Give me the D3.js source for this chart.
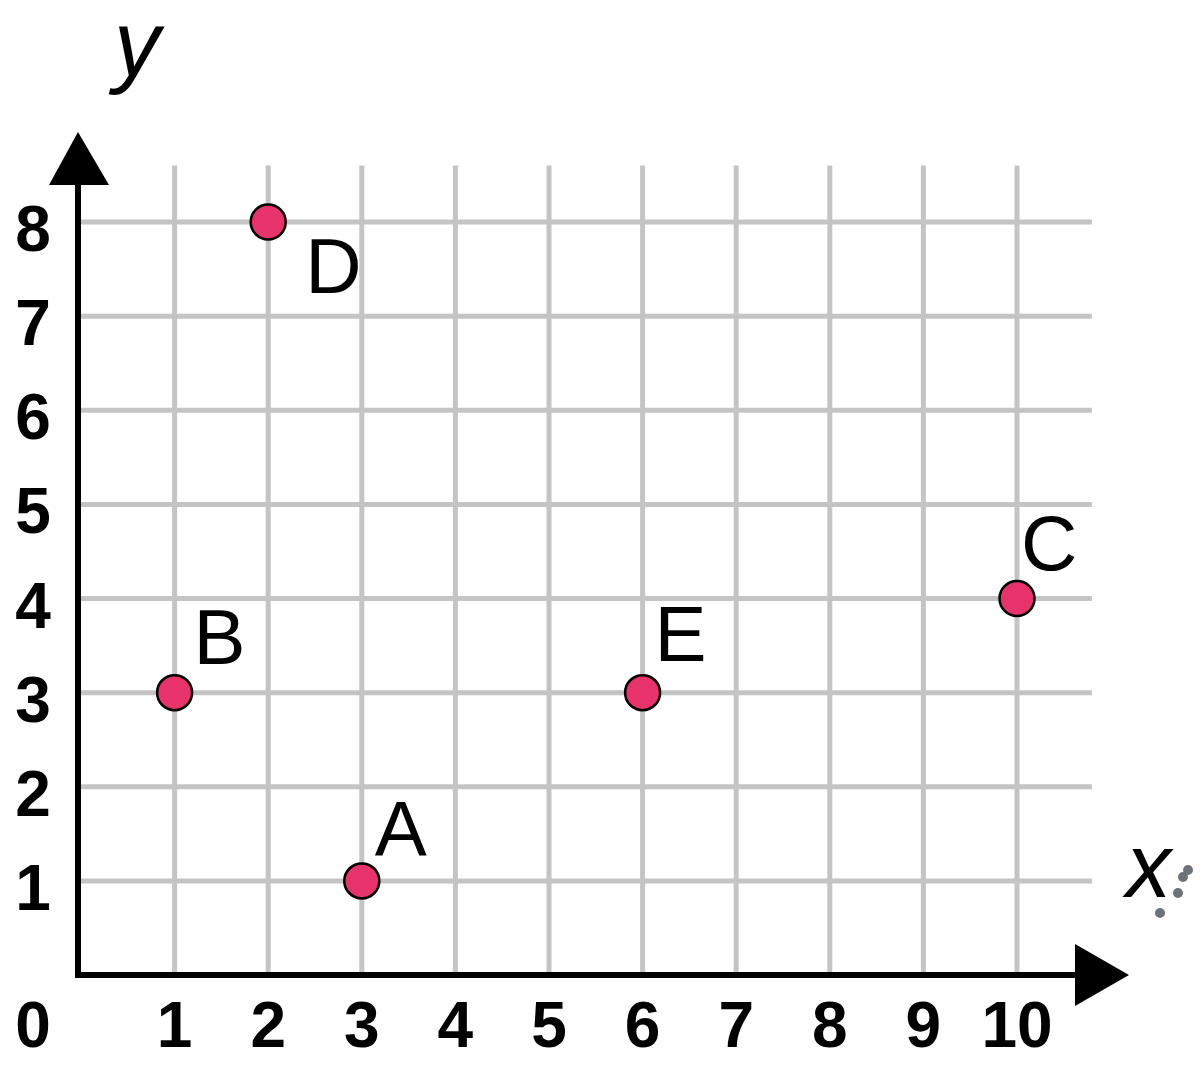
<!DOCTYPE html>
<html>
<head>
<meta charset="utf-8">
<script src="https://cdn.jsdelivr.net/npm/d3@7"></script>
<style>
html,body{margin:0;padding:0;background:#fff;}
svg{display:block;}
</style>
</head>
<body>
<svg id="chart" width="1200" height="1083"></svg>
<script>
// ---- data ----
const pointNames = ["A", "B", "C", "D", "E"];
const pointX = [3, 1, 10, 2, 6];
const pointY = [1, 3, 4, 8, 3];
const xTicks = [0, 1, 2, 3, 4, 5, 6, 7, 8, 9, 10];
const yTicks = [1, 2, 3, 4, 5, 6, 7, 8];
const xAxisTitle = "x";
const yAxisTitle = "y";

// ---- layout ----
const svg = d3.select("#chart");
const x = d3.scaleLinear().domain([0, 10]).range([81, 1017]);
const y = d3.scaleLinear().domain([0, 8]).range([975, 222]);
// label offsets (pixels) relative to each point, layout only
const labelOffset = {A: [13, -25], B: [19, -29], C: [4, -29], D: [37, 71], E: [12, -32]};

const gridColor = "#c4c4c4";
const g = svg.append("g");

// vertical grid lines
g.selectAll("line.vg").data(xTicks.filter(d => d > 0)).enter().append("line")
  .attr("x1", d => x(d)).attr("x2", d => x(d))
  .attr("y1", y(0)).attr("y2", y(8.6))
  .attr("stroke", gridColor).attr("stroke-width", 5);
// horizontal grid lines
g.selectAll("line.hg").data(yTicks).enter().append("line")
  .attr("x1", x(0)).attr("x2", x(10.8))
  .attr("y1", d => y(d)).attr("y2", d => y(d))
  .attr("stroke", gridColor).attr("stroke-width", 5);

// axes
const ax0 = x(0) - 3;
g.append("line").attr("x1", ax0).attr("x2", ax0).attr("y1", y(0) + 3).attr("y2", y(8.4))
  .attr("stroke", "#000").attr("stroke-width", 6);
g.append("line").attr("x1", ax0 - 3).attr("x2", x(10.62)).attr("y1", y(0)).attr("y2", y(0))
  .attr("stroke", "#000").attr("stroke-width", 6);
// arrowheads
g.append("path")
  .attr("d", `M${ax0},${132} L${ax0 + 31},${185} L${ax0 - 29},${185} Z`)
  .attr("fill", "#000");
g.append("path")
  .attr("d", `M${1129},${y(0)} L${1075},${y(0) - 31} L${1075},${y(0) + 31} Z`)
  .attr("fill", "#000");

// tick labels
const tickFont = "'Liberation Sans', Arial, sans-serif";
g.selectAll("text.xt").data(xTicks).enter().append("text")
  .attr("x", d => d === 0 ? 33 : x(d)).attr("y", 1047)
  .attr("text-anchor", "middle")
  .attr("font-family", tickFont).attr("font-weight", "bold").attr("font-size", 64)
  .attr("fill", "#000")
  .text(d => d);
g.selectAll("text.yt").data(yTicks).enter().append("text")
  .attr("x", 33).attr("y", d => y(d) + 29)
  .attr("text-anchor", "middle")
  .attr("font-family", tickFont).attr("font-weight", "bold").attr("font-size", 64)
  .attr("fill", "#000")
  .text(d => d);

// axis titles
g.append("text").attr("x", 114).attr("y", 76)
  .attr("font-family", tickFont).attr("font-style", "italic").attr("font-size", 92)
  .attr("fill", "#000").text(yAxisTitle);
g.append("text").attr("x", 1126).attr("y", 897)
  .attr("font-family", tickFont).attr("font-style", "italic").attr("font-size", 90)
  .attr("fill", "#000").text(xAxisTitle);
// small gray specks near x title (as in reference)
const specks = [[1188, 870], [1183, 877], [1178, 893], [1160, 913]];
g.selectAll("circle.sp").data(specks).enter().append("circle")
  .attr("cx", d => d[0]).attr("cy", d => d[1]).attr("r", 5).attr("fill", "#6d7278");

// points
const pts = pointNames.map((n, i) => ({name: n, x: pointX[i], y: pointY[i]}));
g.selectAll("circle.pt").data(pts).enter().append("circle")
  .attr("cx", d => x(d.x)).attr("cy", d => y(d.y)).attr("r", 17.5)
  .attr("fill", "#e6336b").attr("stroke", "#000").attr("stroke-width", 2.5);
g.selectAll("text.pl").data(pts).enter().append("text")
  .attr("x", d => x(d.x) + labelOffset[d.name][0])
  .attr("y", d => y(d.y) + labelOffset[d.name][1])
  .attr("font-family", tickFont).attr("font-size", 78)
  .attr("fill", "#000").text(d => d.name);
</script>
</body>
</html>
